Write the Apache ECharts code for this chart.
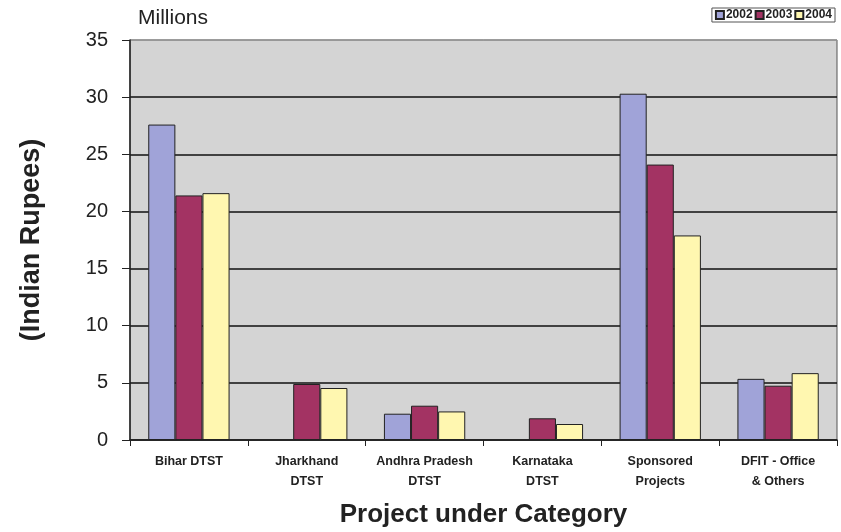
<!DOCTYPE html>
<html><head><meta charset="utf-8">
<script src="https://cdn.jsdelivr.net/npm/echarts@6/dist/echarts.min.js"></script>
<style>html,body{margin:0;padding:0;background:#fff}#c{width:841px;height:532px}</style>
</head><body><div id="c"></div>
<script>
const categories = ["Bihar DTST", "Jharkhand\nDTST", "Andhra Pradesh\nDTST", "Karnataka\nDTST", "Sponsored\nProjects", "DFIT - Office\n& Others"];
const years = ["2002", "2003", "2004"];
const v2002 = [27.6, null, 2.3, null, 30.3, 5.35];
const v2003 = [21.4, 4.9, 3.0, 1.9, 24.1, 4.75];
const v2004 = [21.6, 4.55, 2.5, 1.4, 17.9, 5.85];
const colors = ["#a0a3d8", "#a33363", "#fff7b0"];

const chart = echarts.init(document.getElementById('c'));
const mk = (name, data, color) => ({
  name, type: 'bar', data, barGap: '0%', barCategoryGap: '31%',
  itemStyle: { color, borderColor: '#222', borderWidth: 1 }
});
chart.setOption({
  animation: false,
  textStyle: { fontFamily: 'Liberation Sans, Arial, sans-serif' },
  grid: { left: 130, right: 4, top: 40, bottom: 92, outerBoundsMode: 'none', containLabel: false,
          show: true, backgroundColor: '#d4d4d4', borderColor: '#555', borderWidth: 1 },
  legend: {
    data: years, right: 6, top: 8, itemWidth: 8, itemHeight: 8, itemGap: 2,
    borderColor: '#555', borderWidth: 1, padding: [1, 3],
    textStyle: { fontSize: 12, fontWeight: 'bold', color: '#222', padding: [0, 0, 0, -3] },
    icon: 'rect'
  },
  graphic: [{ type: 'text', left: 138, top: 8, style: { text: 'Millions', fontSize: 21, fill: '#222', fontFamily: 'Liberation Sans, Arial' } }],
  xAxis: {
    type: 'category', data: categories,
    name: 'Project under Category', nameLocation: 'middle', nameGap: 62,
    nameTextStyle: { fontSize: 26, fontWeight: 'bold', color: '#222' },
    axisLine: { lineStyle: { color: '#222', width: 1.5 } },
    axisTick: { show: true, length: 6, lineStyle: { color: '#222' } },
    axisLabel: { fontSize: 12.5, fontWeight: 'bold', color: '#222', lineHeight: 20, margin: 12, interval: 0 }
  },
  yAxis: {
    type: 'value', min: 0, max: 35, interval: 5,
    name: '(Indian Rupees)', nameLocation: 'middle', nameGap: 85, nameRotate: 90,
    nameTextStyle: { fontSize: 27, fontWeight: 'bold', color: '#222' },
    axisLine: { show: true, lineStyle: { color: '#222', width: 1.5 } },
    axisTick: { show: true, length: 8, lineStyle: { color: '#222' } },
    axisLabel: { fontSize: 20, color: '#222', margin: 22 },
    splitLine: { lineStyle: { color: ['#111', '#111', '#111', '#111', '#111', '#111', '#111', '#999'], width: 1.5 } }
  },
  series: [mk(years[0], v2002, colors[0]), mk(years[1], v2003, colors[1]), mk(years[2], v2004, colors[2])]
});
</script></body></html>
